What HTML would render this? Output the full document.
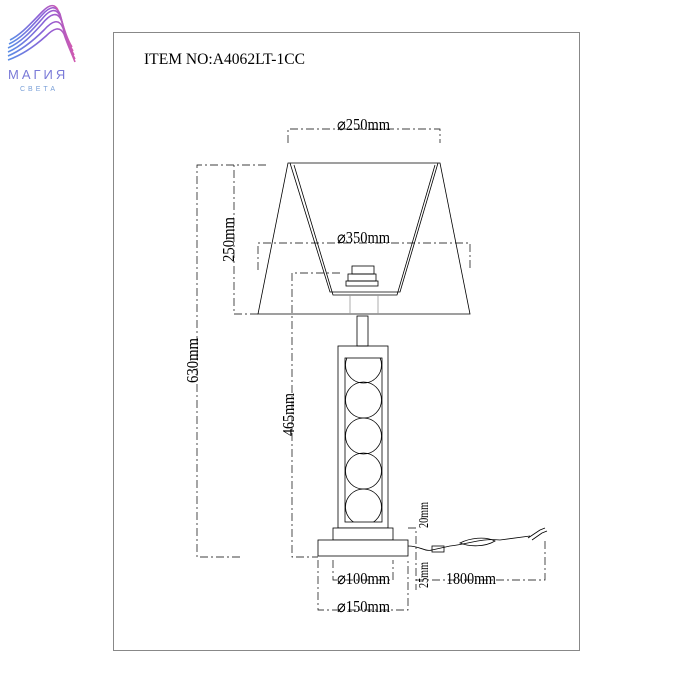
<!DOCTYPE html>
<html><head><meta charset="utf-8"><style>
body{margin:0;background:#fff;}
svg{display:block}
text{font-family:"Liberation Serif",serif;fill:#000}
</style></head><body>
<svg width="700" height="700" viewBox="0 0 700 700" xmlns="http://www.w3.org/2000/svg">
<defs>
<linearGradient id="g" x1="0" y1="0" x2="1" y2="0">
<stop offset="0" stop-color="#5b8ee6"/><stop offset="0.6" stop-color="#8e5ed6"/><stop offset="1" stop-color="#d05ab0"/>
</linearGradient>
<clipPath id="c"><rect x="345" y="358" width="37" height="164"/></clipPath>
</defs>
<g fill="none" stroke="url(#g)" stroke-width="1.6">
<path d="M8,52 C22,46 32,35 42,24 C50,14 58,10 62,22 C66,38 70,48 74,55"/>
<path d="M8,48 C22,42 32,30 42,19 C50,9 57,7 61,18 C65,34 69,45 73,51"/>
<path d="M9,44 C22,38 32,26 42,15 C50,6 56,5 60,14 C64,30 68,41 72,47"/>
<path d="M10,40 C22,34 32,22 43,11 C50,4 55,4 58,10"/>
<path d="M8,56 C22,50 34,40 44,30 C52,21 59,18 63,28 C67,42 71,52 75,59"/>
<path d="M8,60 C22,55 36,45 46,36 C54,28 60,26 64,34 C68,46 72,54 75,62"/>
</g>
<text x="8" y="79" style="font-family:'Liberation Sans',sans-serif;font-size:13px;fill:#7a7ad8;letter-spacing:3px">МАГИЯ</text>
<text x="20" y="91" style="font-family:'Liberation Sans',sans-serif;font-size:7px;fill:#7aa0d8;letter-spacing:3px">СВЕТА</text>

<rect x="113.5" y="32.5" width="466" height="618" fill="none" stroke="#888" stroke-width="1"/>
<text x="144" y="64" font-size="16" textLength="161" lengthAdjust="spacingAndGlyphs">ITEM NO:A4062LT-1CC</text>

<g fill="none" stroke="#000" stroke-width="0.8">
<path d="M288,163 L440,163 L470,314 L258,314 Z"/>
<path d="M290,163 L330,292 L400,292 L438,163"/>
<path d="M294,165 L333,295 L397,295 L435,165"/>
<rect x="348" y="274" width="28" height="7"/>
<rect x="352" y="266" width="22" height="8"/>
<rect x="346" y="281" width="32" height="5"/>
<path d="M350,295 V314 M378,295 V314" stroke="#999"/>
<rect x="357" y="316" width="11" height="30"/>
<rect x="338" y="346" width="50" height="182"/>
<rect x="345" y="358" width="37" height="164"/>
<g clip-path="url(#c)">
<circle cx="363.5" cy="365" r="18"/>
<circle cx="363.5" cy="400" r="18"/>
<circle cx="363.5" cy="436" r="18"/>
<circle cx="363.5" cy="471" r="18"/>
<circle cx="363.5" cy="507" r="18"/>
</g>
<rect x="333" y="528" width="60" height="12" fill="#fff"/>
<rect x="318" y="540" width="90" height="16" fill="#fff"/>
<path d="M408,546 C420,546 425,552 432,550 L450,546 C470,544 480,538 500,540 L530,536" />
<path d="M460,543 C470,538 485,536 495,541 C485,547 470,547 460,543Z"/>
<rect x="432" y="546" width="12" height="6"/>
<path d="M528,538 L540,530 M532,540 L542,533 M540,530 L545,528 M542,533 L547,531"/>
</g>
<g fill="none" stroke="#000" stroke-width="0.7" stroke-dasharray="8,3,2,3">
<path d="M288,143 V129 H440 V143"/>
<path d="M258,270 V243 H470 V270"/>
<path d="M266,165 H197 V557 H240"/>
<path d="M258,314 H234 V165"/>
<path d="M340,273 H292 V557 H318"/>
<path d="M333,560 V580 H393 V560"/>
<path d="M318,560 V610 H408 V560"/>
<path d="M408,528 H416 V590"/>
<path d="M416,580 H545 V540"/>
</g>
<g font-size="17">
<text x="337" y="130" textLength="53" lengthAdjust="spacingAndGlyphs">⌀250mm</text>
<text x="337" y="243" textLength="53" lengthAdjust="spacingAndGlyphs">⌀350mm</text>
<text x="337" y="584" textLength="53" lengthAdjust="spacingAndGlyphs">⌀100mm</text>
<text x="337" y="612" textLength="53" lengthAdjust="spacingAndGlyphs">⌀150mm</text>
<text x="446" y="584" textLength="50" lengthAdjust="spacingAndGlyphs">1800mm</text>
<text transform="translate(234,262) rotate(-90)" textLength="45" lengthAdjust="spacingAndGlyphs">250mm</text>
<text transform="translate(198,383) rotate(-90)" textLength="45" lengthAdjust="spacingAndGlyphs">630mm</text>
<text transform="translate(294,436) rotate(-90)" textLength="43" lengthAdjust="spacingAndGlyphs">465mm</text>
<text font-size="14" transform="translate(428,528) rotate(-90)" textLength="26" lengthAdjust="spacingAndGlyphs">20mm</text>
<text font-size="14" transform="translate(428,588) rotate(-90)" textLength="26" lengthAdjust="spacingAndGlyphs">25mm</text>
</g>
</svg>
</body></html>
